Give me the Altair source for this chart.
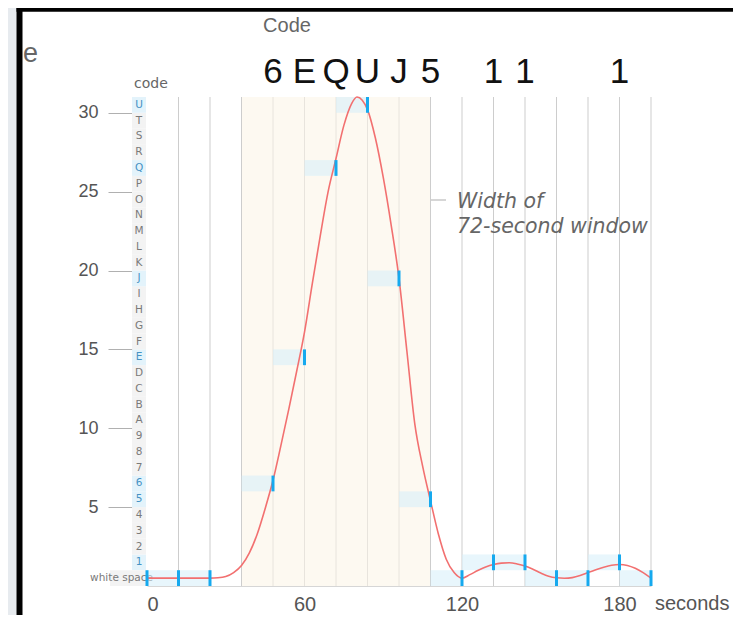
import altair as alt
import pandas as pd

# ---------------- data ----------------
code_labels = ["white space", "1", "2", "3", "4", "5", "6", "7", "8", "9",
               "A", "B", "C", "D", "E", "F", "G", "H", "I", "J", "K", "L",
               "M", "N", "O", "P", "Q", "R", "S", "T", "U"]
sample_times = [0, 12, 24, 48, 60, 72, 84, 96, 108, 120, 132, 144, 156, 168, 180, 192]
sample_codes = [0, 0, 0, 6, 14, 26, 30, 19, 5, 0, 1, 1, 0, 0, 1, 0]

curve_t = [0, 6, 12, 18, 24, 27, 30, 33, 36, 39, 42, 45, 48, 51, 54, 57, 60, 63, 66,
           69, 72, 75, 78, 80, 82, 84, 87, 90, 93, 96, 99, 102, 105, 108, 111, 114,
           117, 120, 123, 126, 129, 132, 135, 138, 141, 144, 147, 150, 153, 156, 159,
           162, 165, 168, 171, 174, 177, 180, 183, 186, 189, 192]
curve_v = [0.5, 0.5, 0.5, 0.5, 0.5, 0.52, 0.6, 0.85, 1.3, 2.1, 3.3, 4.9, 6.7, 8.9,
           11.2, 13.6, 16.1, 19.2, 22.2, 25.0, 27.1, 29.2, 30.6, 31.0, 30.8, 30.2,
           28.4, 25.9, 22.9, 19.5, 14.9, 10.3, 7.6, 5.4, 3.3, 1.7, 0.85, 0.5, 0.72,
           0.98, 1.2, 1.36, 1.45, 1.47, 1.4, 1.27, 1.06, 0.82, 0.62, 0.52, 0.49,
           0.53, 0.66, 0.85, 1.03, 1.19, 1.31, 1.36, 1.3, 1.12, 0.85, 0.5]

grid_times = [12, 24, 36, 48, 60, 72, 84, 96, 108, 120, 132, 144, 156, 168, 180, 192]
window_start = [36]
window_end = [108]
x_tick_values = [0, 60, 120, 180]
y_tick_values = [5, 10, 15, 20, 25, 30]

W, H = 504, 489

# ---------------- tables ----------------
used = set(sample_codes)
codes_df = pd.DataFrame({
    "code": list(range(len(code_labels))),
    "label": code_labels,
})
codes_df["code1"] = codes_df["code"] + 1
codes_df["mid"] = codes_df["code"] + 0.5
codes_df["used"] = codes_df["code"].isin(used)

samples_df = pd.DataFrame({"t": sample_times, "code": sample_codes})
samples_df["start"] = (samples_df["t"] - 12).clip(lower=0)
samples_df["code1"] = samples_df["code"] + 1
samples_df["label"] = [code_labels[c] for c in sample_codes]

curve_df = pd.DataFrame({"t": curve_t, "v": curve_v})
grid_df = pd.DataFrame({"t": grid_times})
grid_df["inside"] = (grid_df["t"] > window_start[0]) & (grid_df["t"] < window_end[0])
window_df = pd.DataFrame({"start": window_start, "end": window_end})
one = pd.DataFrame({"a": [0]})

xs = alt.Scale(domain=[0, 192], nice=False, zero=False)
ys = alt.Scale(domain=[0, 31], nice=False, zero=False)
x_axis = alt.Axis(values=x_tick_values, ticks=False, grid=False, domain=True,
                  domainColor="#d6d6d6", labelFontSize=20, labelColor="#555555",
                  labelFont="Liberation Sans", labelPadding=24,
                  labelBaseline="alphabetic", title=None)
y_axis = alt.Axis(values=y_tick_values, offset=15, tickSize=24, tickColor="#b0b0b0",
                  domain=False, grid=False, labelFontSize=18, labelColor="#555555",
                  labelFont="Liberation Sans", labelPadding=10, title=None)


def X(f):
    return alt.X(f, type="quantitative", scale=xs, axis=x_axis, title=None)


def Y(f):
    return alt.Y(f, type="quantitative", scale=ys, axis=y_axis, title=None)


# ---------------- layers ----------------
window_rect = alt.Chart(window_df).mark_rect(color="#fdf9f1").encode(
    x=X("start"), x2="end", y=alt.value(0), y2=alt.value(H))

grid_out = alt.Chart(grid_df[~grid_df["inside"]]).mark_rule(
    color="#cdcdcd", strokeWidth=1).encode(x=X("t"), y=alt.value(0), y2=alt.value(H))
grid_in = alt.Chart(grid_df[grid_df["inside"]]).mark_rule(
    color="#e8e4dd", strokeWidth=1).encode(x=X("t"), y=alt.value(0), y2=alt.value(H))

cells = alt.Chart(codes_df).transform_filter("datum.code > 0").mark_rect().encode(
    x=alt.value(-15), x2=alt.value(-1), y=Y("code"), y2="code1",
    color=alt.condition("datum.used", alt.value("#e3f3fb"), alt.value("#f3f3f3")))
cell0 = alt.Chart(codes_df).transform_filter("datum.code == 0").mark_rect(
    color="#f3f3f3").encode(x=alt.value(-37), x2=alt.value(-1), y=Y("code"), y2="code1")

cell_labels = alt.Chart(codes_df).transform_filter("datum.code > 0").mark_text(
    font="DejaVu Sans", fontSize=10.5, align="center", baseline="middle").encode(
    x=alt.value(-8), y=Y("mid"), text="label:N",
    color=alt.condition("datum.used", alt.value("#4592c4"), alt.value("#7a7a7a")))
cell0_label = alt.Chart(codes_df).transform_filter("datum.code == 0").mark_text(
    font="DejaVu Sans", fontSize=10.5, align="right", baseline="middle",
    color="#7a7a7a").encode(x=alt.value(6), y=Y("mid"), text="label:N")

code_title = alt.Chart(one).mark_text(
    font="DejaVu Sans", fontSize=14, align="left", baseline="alphabetic",
    color="#666666").encode(x=alt.value(-13), y=alt.value(-9), text=alt.value("code"))

sample_rects = alt.Chart(samples_df).mark_rect(color="#d6eefa", opacity=0.55).encode(
    x=X("start"), x2="t", y=Y("code"), y2="code1")

curve = alt.Chart(curve_df).mark_line(
    color="#f27070", strokeWidth=1.6, interpolate="monotone").encode(
    x=X("t"), y=Y("v"))

ticks = alt.Chart(samples_df).mark_rule(color="#16a9ee", strokeWidth=3).encode(
    x=X("t"), y=Y("code"), y2="code1")

top_codes = alt.Chart(samples_df).transform_filter("datum.code > 0").mark_text(
    font="Liberation Sans", fontSize=35, align="center", baseline="alphabetic",
    color="#111111").encode(x=X("t"), y=alt.value(-14), text="label:N")

code_head = alt.Chart(one).mark_text(
    font="Liberation Sans", fontSize=20, align="center", baseline="alphabetic",
    color="#666666").encode(x=alt.value(140), y=alt.value(-65), text=alt.value("Code"))

win_line = alt.Chart(one).mark_rule(color="#c8c8c8", strokeWidth=1.5).encode(
    x=alt.value(284), x2=alt.value(299), y=alt.value(103))
win_text1 = alt.Chart(one).mark_text(
    font="DejaVu Sans", fontSize=20.5, fontStyle="italic", align="left",
    baseline="alphabetic", color="#666666").encode(
    x=alt.value(310), y=alt.value(111), text=alt.value("Width of"))
win_text2 = alt.Chart(one).mark_text(
    font="DejaVu Sans", fontSize=20.5, fontStyle="italic", align="left",
    baseline="alphabetic", color="#666666").encode(
    x=alt.value(310), y=alt.value(136), text=alt.value("72-second window"))

seconds_text = alt.Chart(one).mark_text(
    font="Liberation Sans", fontSize=20, align="left", baseline="alphabetic",
    color="#555555").encode(x=alt.value(508), y=alt.value(513), text=alt.value("seconds"))

e_text = alt.Chart(one).mark_text(
    font="Liberation Sans", fontSize=27, align="left", baseline="alphabetic",
    color="#666666").encode(x=alt.value(-124), y=alt.value(-35), text=alt.value("e"))

left_strip = alt.Chart(one).mark_rect(color="#e7ebef").encode(
    x=alt.value(-139), x2=alt.value(-130.5), y=alt.value(-89), y2=alt.value(540))
left_band = alt.Chart(one).mark_rect(color="#000000").encode(
    x=alt.value(-130.5), x2=alt.value(-124.5), y=alt.value(-89), y2=alt.value(540))
top_band = alt.Chart(one).mark_rect(color="#000000").encode(
    x=alt.value(-130.5), x2=alt.value(590), y=alt.value(-89), y2=alt.value(-85.3))

chart = alt.layer(
    window_rect, grid_out, grid_in, cells, cell0, cell0_label, cell_labels,
    code_title, sample_rects, curve, ticks, top_codes, code_head,
    win_line, win_text1, win_text2, seconds_text, e_text,
    left_strip, left_band, top_band,
).properties(
    width=W, height=H,
    padding={"left": 139, "top": 89, "right": 82, "bottom": 29},
    autosize=alt.AutoSizeParams(type="none"),
    background="white",
).configure_view(stroke=None)

chart.save("out.html", embed_options={"renderer": "svg", "actions": False})
